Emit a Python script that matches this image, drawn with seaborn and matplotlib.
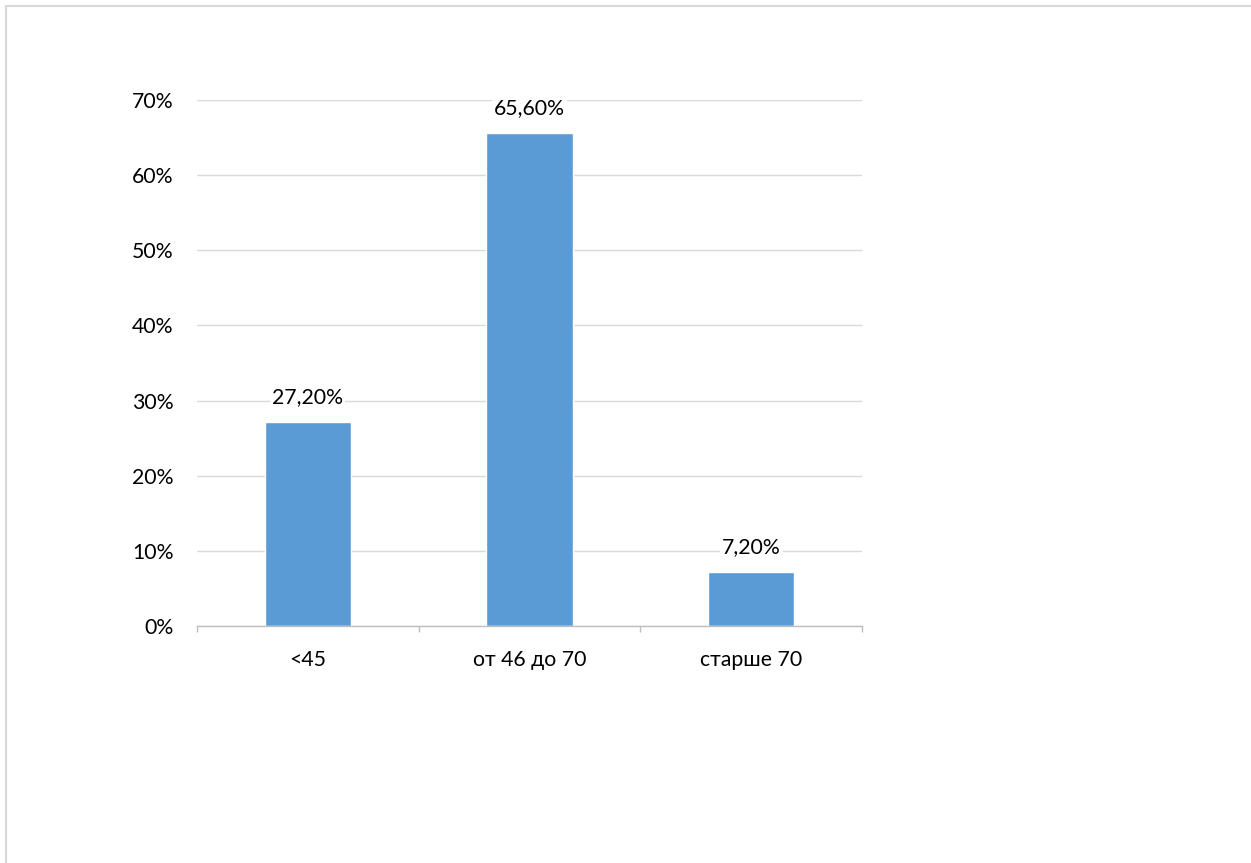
import matplotlib
matplotlib.use("Agg")
import matplotlib.pyplot as plt
import seaborn as sns
from matplotlib.lines import Line2D

# Age groups and their share of patients
categories = ["<45", "от 46 до 70", "старше 70"]
values = [27.2, 65.6, 7.2]
labels = ["27,20%", "65,60%", "7,20%"]
yticks = [0, 10, 20, 30, 40, 50, 60, 70]

sns.set_style("white")
plt.rcParams['font.family'] = ['Lato', 'DejaVu Sans']
fs = 15.3

fig = plt.figure(figsize=(12.51, 8.63), dpi=100)
ax = fig.add_axes([197 / 1251, 1 - 626 / 863, 665 / 1251, 526 / 863])

sns.barplot(x=categories, y=values, color="#5B9BD5", saturation=1,
            width=0.39, ax=ax)

ax.set_xlim(-0.5, 2.5)
ax.set_ylim(0, 70)
ax.set_yticks(yticks)
ax.set_yticklabels([f"{t}%" for t in yticks])
ax.grid(axis="y", color="#D9D9D9", linewidth=1.0)
ax.set_axisbelow(True)
for s in ["top", "right", "left"]:
    ax.spines[s].set_visible(False)
ax.spines["bottom"].set_color("#BFBFBF")
ax.spines["bottom"].set_linewidth(1.0)

ax.tick_params(axis="y", length=0, pad=17, labelsize=fs, labelcolor="#000000")
ax.tick_params(axis="x", which="major", length=0, pad=17, labelsize=fs,
               labelcolor="#000000")
ax.set_xticks([-0.5, 0.5, 1.5, 2.5], minor=True)
ax.tick_params(axis="x", which="minor", bottom=True, length=4.5,
               color="#BFBFBF", width=1.0, direction="out")
ax.set_xlabel("")
ax.set_ylabel("")

for i, (v, lab) in enumerate(zip(values, labels)):
    ax.annotate(lab, (i, v), xytext=(0, 18), textcoords="offset points",
                ha="center", va="center", fontsize=fs, color="#000000",
                bbox=dict(boxstyle="square,pad=0.1", fc="white", ec="none"))

# chart frame (only top and left edges visible in the crop)
fig.add_artist(Line2D([6 / 1251, 1], [1 - 6 / 863, 1 - 6 / 863],
                      transform=fig.transFigure, color="#D9D9D9", lw=1.5))
fig.add_artist(Line2D([6 / 1251, 6 / 1251], [0, 1 - 6 / 863],
                      transform=fig.transFigure, color="#D9D9D9", lw=1.5))

fig.savefig("out.png", dpi=100, facecolor="white")
